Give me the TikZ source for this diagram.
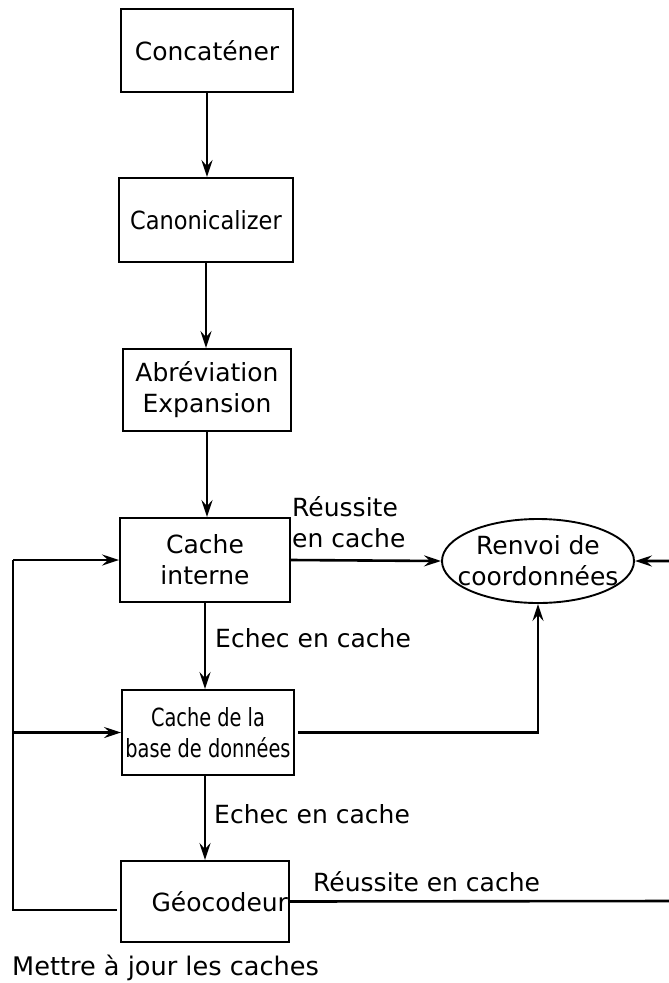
\documentclass[tikz,border=0pt]{standalone}
\usepackage{fontspec}
\setmainfont{DejaVu Sans}
\newfontfamily\condfont{DejaVu Sans Condensed}
\newfontfamily\narrowfont{DejaVu Sans Condensed}[FakeStretch=0.86]
\usetikzlibrary{arrows.meta,shapes.geometric}
\begin{document}
\begin{tikzpicture}[x=1pt,y=-1pt,
  font=\fontsize{25}{31}\selectfont,
  stepbox/.style={draw, line width=1.9pt, inner sep=0pt, align=center},
  link/.style={line width=2.6pt},
  arr/.style={link, -{Stealth[length=17pt,width=11pt,inset=6pt]}},
  lbl/.style={inner sep=0pt, anchor=base west}]
\useasboundingbox (0,0) rectangle (669,983);
\clip (0,0) rectangle (669,983);

% processing chain
\node[stepbox, minimum width=172pt, minimum height=83pt] (cat) at (207,50.5) {Concaténer};
\node[stepbox, minimum width=174pt, minimum height=84pt] (can) at (206,220) {\condfont Canonicalizer};
\node[stepbox, minimum width=168pt, minimum height=82pt] (abr) at (207,390) {Abréviation\\Expansion};
\node[stepbox, minimum width=170pt, minimum height=84pt] (ci) at (205,560) {Cache\\interne};
\node[stepbox, minimum width=172pt, minimum height=85pt] (db) at (208,732.5) {\narrowfont Cache de la\\\narrowfont base de données};
\node[stepbox, minimum width=168pt, minimum height=81pt, text width=166pt, align=right] (geo) at (205,901.5) {Géocodeur};
\node[draw, ellipse, line width=1.9pt, inner xsep=-13pt, inner ysep=0pt,
      minimum width=192pt, minimum height=84pt, align=center] (ell) at (538,561) {Renvoi de\\coordonnées};

% vertical flow
\draw[arr] (cat.south) -- (cat.south |- can.north);
\draw[arr] (can.south) -- (can.south |- abr.north);
\draw[arr] (abr.south) -- (abr.south |- ci.north);
\draw[arr] (ci.south) -- (ci.south |- db.north);
\draw[arr] (db.south -| ci.south) -- (ci.south |- geo.north);

% hits towards the result
\draw[arr] (ci.east) -- (ell.west);
\draw[arr] ([xshift=3pt]db.east) -| (ell.south);
\coordinate (rt) at (675,901);
\draw[arr] (geo.east) -- (rt) |- (ell.east);

% cache update loop
\coordinate (fb) at (13,910);
\draw[link] ([xshift=-3pt]geo.west |- fb) -- (fb) -- (fb |- ci.west);
\draw[arr] (fb |- ci.west) -- (ci.west);
\draw[arr] (fb |- db.west) -- (db.west);

% labels
\node[lbl] at (292,516) {Réussite};
\node[lbl] at (292,547) {en cache};
\node[lbl] at (215,647) {Echec en cache};
\node[lbl] at (214,823) {Echec en cache};
\node[lbl] at (313,891) {Réussite en cache};
\node[lbl, font=\fontsize{25.6}{31}\selectfont] at (12,975) {Mettre à jour les caches};
\end{tikzpicture}
\end{document}
